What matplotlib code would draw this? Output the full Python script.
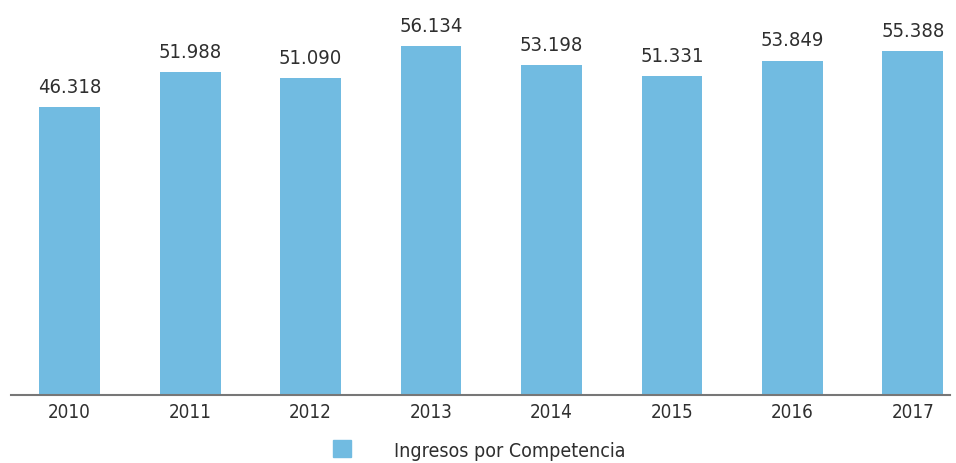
import matplotlib.pyplot as plt
from matplotlib.patches import Patch

plt.rcParams['font.family'] = ['DejaVu Sans']
plt.rcParams['font.stretch'] = 'condensed'

years = ["2010", "2011", "2012", "2013", "2014", "2015", "2016", "2017"]
ingresos = [46.318, 51.988, 51.090, 56.134, 53.198, 51.331, 53.849, 55.388]
labels = ["46.318", "51.988", "51.090", "56.134", "53.198", "51.331", "53.849", "55.388"]
serie = "Ingresos por Competencia"

bar_color = "#71BBE1"
text_color = "#2F2F2F"

fig = plt.figure(figsize=(9.56, 4.64), dpi=100)
ax = fig.add_axes([0.0, 0.1455, 1.0, 0.8545])

x = range(len(years))
bars = ax.bar(x, ingresos, width=0.506, color=bar_color)
for b, lab in zip(bars, labels):
    ax.annotate(lab, (b.get_x() + b.get_width() / 2, b.get_height()),
                xytext=(0, 8), textcoords="offset points",
                ha="center", va="bottom", fontsize=14.5, color=text_color)

ax.set_xlim(-0.577, 7.357)
ax.set_ylim(0, 63.75)
ax.set_xticks(list(x))
ax.set_xticklabels(years, fontsize=13.5, color=text_color)
ax.tick_params(axis="x", length=0, pad=5)
ax.set_yticks([])
for s in ["top", "right", "left"]:
    ax.spines[s].set_visible(False)
ax.spines["bottom"].set_color("#777777")
ax.spines["bottom"].set_linewidth(1.5)
ax.spines["bottom"].set_bounds(-0.486, 7.307)

fig.legend(handles=[Patch(color=bar_color, label=serie)],
           loc="center left", bbox_to_anchor=(0.348, 0.028),
           frameon=False, fontsize=14, labelcolor=text_color,
           handlelength=0.95, handleheight=0.95, handletextpad=2.2,
           borderpad=0, borderaxespad=0)

fig.savefig("out.png", dpi=100)
